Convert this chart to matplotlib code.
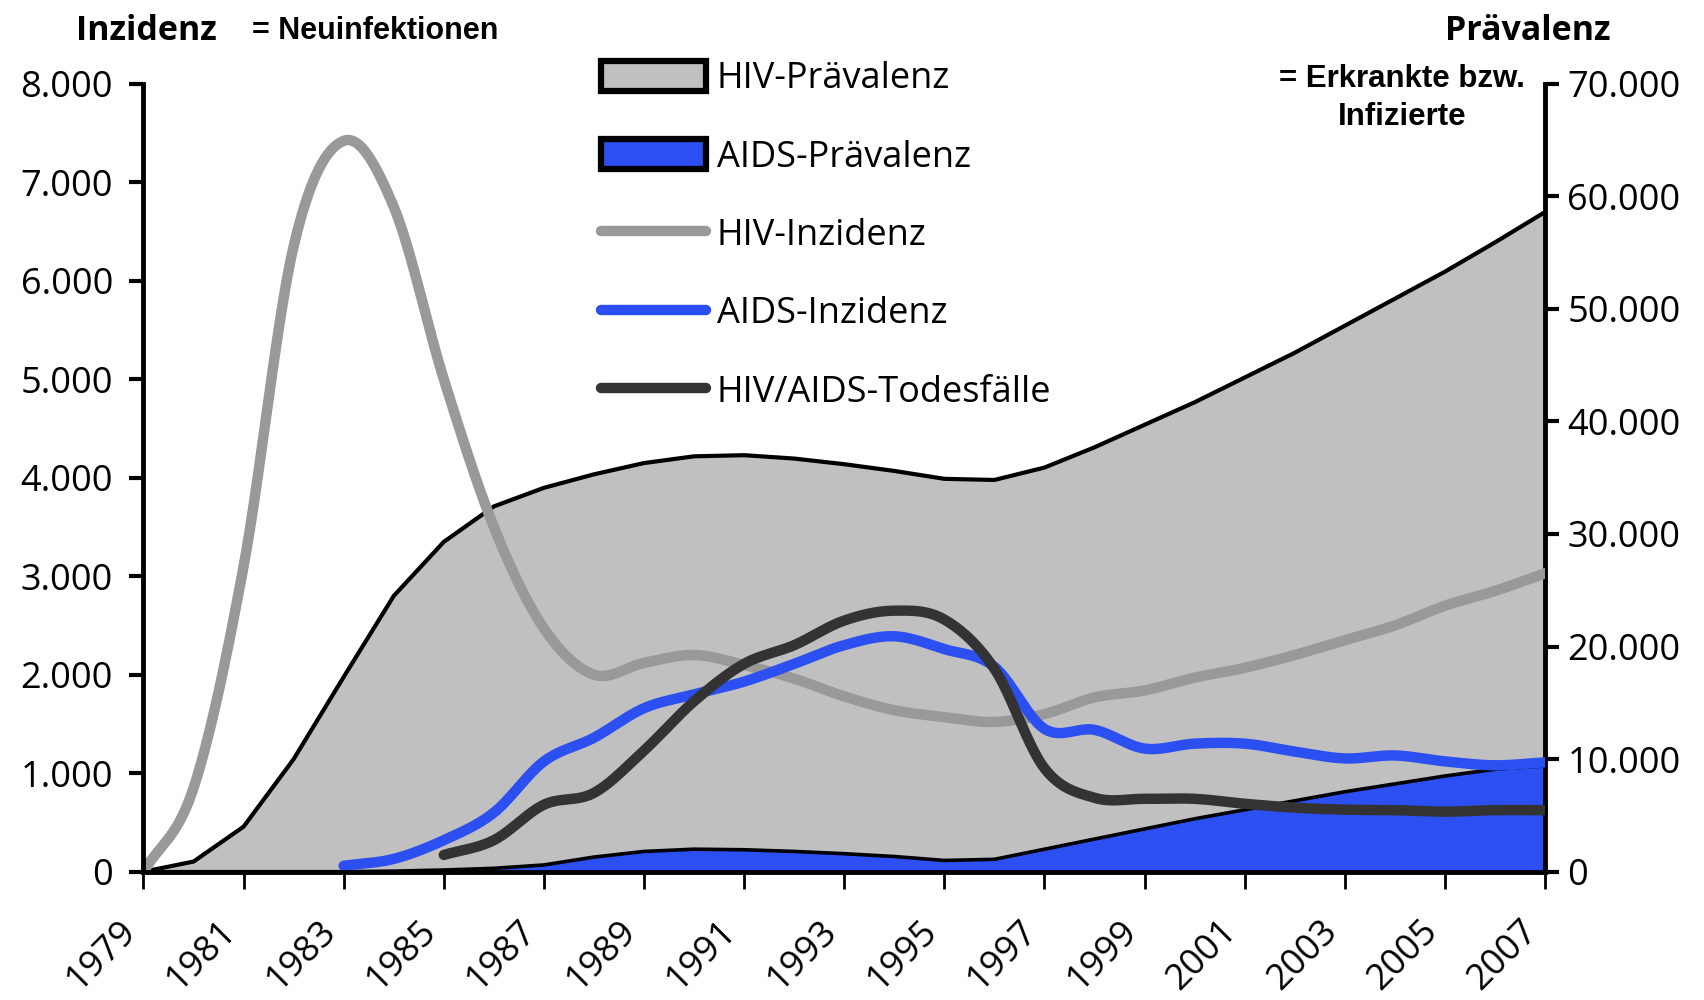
import numpy as np
import matplotlib
matplotlib.use("Agg")
import matplotlib.pyplot as plt
from matplotlib.patches import Patch
from matplotlib.lines import Line2D
from matplotlib.ticker import FuncFormatter
from matplotlib.transforms import ScaledTranslation

# --- data (annual values) ---
years = list(range(1979, 2008))

# prevalence, right axis
hiv_prev = [0, 900, 4000, 10000, 17300, 24500, 29300, 32450, 34100, 35300,
            36300, 36900, 37000, 36700, 36200, 35600, 34900, 34800, 35900, 37700,
            39700, 41700, 43900, 46100, 48500, 50900, 53300, 55900, 58600]
aids_prev = [0, 0, 0, 0, 0, 50, 150, 300, 600, 1300,
             1800, 2000, 1950, 1800, 1600, 1350, 1000, 1100, 2000, 2900,
             3800, 4700, 5500, 6300, 7100, 7800, 8500, 9100, 9400]

# incidence, left axis
hiv_inc = [0, 850, 3100, 6350, 7420, 6750, 5000, 3500, 2470, 2000,
           2120, 2200, 2100, 1960, 1780, 1640, 1570, 1520, 1600, 1770,
           1840, 1970, 2070, 2200, 2350, 2500, 2700, 2850, 3030]
aids_inc = [np.nan] * 4 + [60, 130, 320, 600, 1120, 1360,
                           1660, 1800, 1930, 2110, 2300, 2390, 2260, 2080, 1450, 1440,
                           1250, 1300, 1300, 1220, 1150, 1180, 1120, 1080, 1110]
deaths = [np.nan] * 6 + [170, 320, 680, 800,
                         1230, 1730, 2110, 2300, 2550, 2650, 2560, 2060, 1050, 750,
                         740, 740, 690, 650, 630, 625, 610, 625, 625]

legend_labels = ["HIV-Prävalenz", "AIDS-Prävalenz", "HIV-Inzidenz",
                 "AIDS-Inzidenz", "HIV/AIDS-Todesfälle"]

GRAY_FILL = "#c0c0c0"
BLUE = "#2b4ff0"
GRAY_LINE = "#999999"
DARK = "#333333"
HUMAN = "Open Sans"
ARIAL = "Liberation Sans"
FS = 26
LW = 7.5


def smooth(x, y, n=24):
    # smoothed line rendering (like the spreadsheet's "smoothed line"), Catmull-Rom
    x = np.asarray(x, float)
    y = np.asarray(y, float)
    ok = ~np.isnan(y)
    x, y = x[ok], y[ok]
    px = np.concatenate([[2 * x[0] - x[1]], x, [2 * x[-1] - x[-2]]])
    py = np.concatenate([[2 * y[0] - y[1]], y, [2 * y[-1] - y[-2]]])
    t = np.linspace(0, 1, n, endpoint=False)
    xs, ys = [], []
    for i in range(1, len(px) - 2):
        for arr, out in ((px, xs), (py, ys)):
            p0, p1, p2, p3 = arr[i - 1], arr[i], arr[i + 1], arr[i + 2]
            out.extend(0.5 * (2 * p1 + (-p0 + p2) * t
                              + (2 * p0 - 5 * p1 + 4 * p2 - p3) * t ** 2
                              + (-p0 + 3 * p1 - 3 * p2 + p3) * t ** 3))
    xs.append(x[-1])
    ys.append(y[-1])
    return np.array(xs), np.array(ys)


def thousands(v, _pos):
    return f"{int(round(v)):,}".replace(",", ".")


fig = plt.figure(figsize=(17.04, 10), dpi=100)
ax = fig.add_axes([0.0842, 0.1283, 0.8225, 0.788])
ax2 = ax.twinx()
ax.set_zorder(ax2.get_zorder() + 1)
ax.patch.set_visible(False)

# prevalence areas (right axis)
ax2.fill_between(years, 0, hiv_prev, facecolor=GRAY_FILL, edgecolor="none")
ax2.plot(years, hiv_prev, color="black", lw=3)
ax2.fill_between(years, 0, aids_prev, facecolor=BLUE, edgecolor="none")
ax2.plot(years, aids_prev, color="black", lw=2.6)

# incidence lines (left axis)
for series, col in ((hiv_inc, GRAY_LINE), (aids_inc, BLUE), (deaths, DARK)):
    sx, sy = smooth(years, series)
    ax.plot(sx, sy, color=col, lw=LW, solid_capstyle="round", solid_joinstyle="round")

ax.set_xlim(1979, 2007)
ax.set_ylim(0, 8000)
ax2.set_ylim(0, 70000)
ax.set_yticks(range(0, 8001, 1000))
ax2.set_yticks(range(0, 70001, 10000))
ax.yaxis.set_major_formatter(FuncFormatter(thousands))
ax2.yaxis.set_major_formatter(FuncFormatter(thousands))

ax.set_xticks(years[::2])
ax.set_xticklabels([str(y) for y in years[::2]], rotation=45, ha="right", va="top",
                   fontfamily=HUMAN, fontsize=26)
shift = ScaledTranslation(-8 / 72, 0, fig.dpi_scale_trans)
for lab in ax.get_xticklabels():
    lab.set_transform(lab.get_transform() + shift)

ax.tick_params(axis="x", direction="out", length=12, width=2, pad=18, colors="black")
ax.tick_params(axis="y", direction="out", length=10, width=3, pad=12, labelsize=FS)
ax2.tick_params(axis="y", direction="out", length=10, width=3, pad=6, labelsize=FS)
for lab in ax.get_yticklabels() + ax2.get_yticklabels():
    lab.set_fontfamily(HUMAN)

for name in ("top", "right"):
    ax.spines[name].set_visible(False)
for name in ("top", "left", "bottom"):
    ax2.spines[name].set_visible(False)
ax.spines["left"].set_linewidth(3.5)
ax.spines["bottom"].set_linewidth(3.5)
ax2.spines["right"].set_linewidth(3.5)

# legend
handles = [
    Patch(facecolor=GRAY_FILL, edgecolor="black", linewidth=4.5),
    Patch(facecolor=BLUE, edgecolor="black", linewidth=4.5),
    Line2D([], [], color=GRAY_LINE, lw=LW, solid_capstyle="round"),
    Line2D([], [], color=BLUE, lw=LW, solid_capstyle="round"),
    Line2D([], [], color=DARK, lw=LW, solid_capstyle="round"),
]
fig.legend(handles, legend_labels, loc="upper left", bbox_to_anchor=(0.3527, 0.939),
           frameon=False, prop={"family": HUMAN, "size": FS}, handlelength=2.9,
           handleheight=0.9, handletextpad=0.3, labelspacing=1.16, borderpad=0,
           borderaxespad=0)

# axis titles
fig.text(76 / 1704, 1 - 31 / 1000, "Inzidenz", fontfamily=HUMAN, fontweight="bold",
         fontsize=24.5, ha="left", va="center")
fig.text(252 / 1704, 1 - 31 / 1000, "= Neuinfektionen", fontfamily=ARIAL,
         fontweight="bold", fontsize=22, ha="left", va="center")
fig.text(1611 / 1704, 1 - 31 / 1000, "Prävalenz", fontfamily=HUMAN, fontweight="bold",
         fontsize=24.5, ha="right", va="center")
fig.text(1402 / 1704, 1 - 98 / 1000, "= Erkrankte bzw.\nInfizierte", fontfamily=ARIAL,
         fontweight="bold", fontsize=22.5, ha="center", va="center",
         multialignment="center", linespacing=1.33)

fig.savefig("out.png", dpi=100)
